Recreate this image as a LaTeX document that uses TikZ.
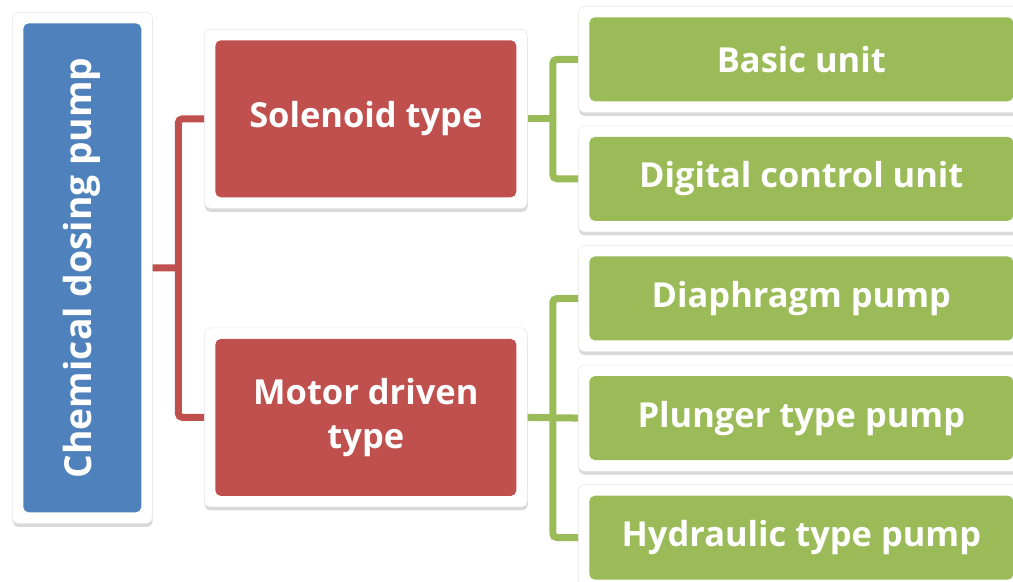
\documentclass[tikz,border=0pt]{standalone}
\usepackage{fontspec}
\setmainfont{Open Sans}
\usetikzlibrary{positioning,calc,shadows}

\definecolor{rootblue}{HTML}{4F81BD}
\definecolor{typered}{HTML}{C0504D}
\definecolor{unitgreen}{HTML}{9BBB59}

\begin{document}
\begin{tikzpicture}[x=0.025cm, y=-0.025cm,
    block/.style={rectangle, fill=white, draw=black!9, line width=0.4pt, rounded corners=4pt, inner sep=0pt,
        text=white, font=\fontsize{24.5}{31}\selectfont\bfseries, align=center,
        drop shadow={opacity=0.3, shadow xshift=0.3pt, shadow yshift=-2.5pt},
        path picture={\fill[#1] ($(path picture bounding box.south west)+(0.275cm,0.275cm)$)
            rectangle ($(path picture bounding box.north east)-(0.275cm,0.275cm)$);}},
    rootblock/.style={block=rootblue, minimum width=3.5cm, minimum height=12.775cm,
        font=\fontsize{26.5}{32}\selectfont\bfseries},
    typeblock/.style={block=typered, minimum width=8.075cm, minimum height=4.475cm},
    unitblock/.style={block=unitgreen, minimum width=11.15cm, minimum height=2.65cm},
    link/.style={line width=5pt, rounded corners=3pt}]

    \clip (0,0) rectangle (1013,582);

    % Root
    \node[rootblock, anchor=north west] (pump) at (12,12) {\rotatebox{90}{Chemical dosing pump}};

    % Pump types
    \node[typeblock, anchor=north west] (solenoid) at (204,29) {Solenoid type};
    \node[typeblock, below=2.975cm of solenoid] (motor) {Motor driven\\type};

    % Units
    \node[unitblock, anchor=north west] (basic) at (578,6) {Basic unit};
    \node[unitblock, below=0.325cm of basic] (digital) {Digital control unit};
    \node[unitblock, below=0.325cm of digital] (diaphragm) {Diaphragm pump};
    \node[unitblock, below=0.325cm of diaphragm] (plunger) {Plunger type pump};
    \node[unitblock, below=0.325cm of plunger] (hydraulic) {Hydraulic type pump};

    % Forks
    \coordinate (pfork) at ($(pump.east)!0.5!(solenoid.west |- pump.east)$);
    \coordinate (sfork) at ($(solenoid.east)!0.5!(basic.west |- solenoid.east)$);
    \coordinate (mfork) at ($(motor.east)!0.5!(plunger.west |- motor.east)$);

    % Links
    \draw[link, typered] (pump.east) -- (pfork);
    \draw[link, typered] (solenoid.west) -| (pfork) |- (motor.west);
    \draw[link, unitgreen] (solenoid.east) -- (sfork);
    \draw[link, unitgreen] (basic.west) -| (sfork) |- (digital.west);
    \draw[link, unitgreen] (motor.east) -- (plunger.west);
    \draw[link, unitgreen] (diaphragm.west) -| (mfork) |- (hydraulic.west);

\end{tikzpicture}
\end{document}
